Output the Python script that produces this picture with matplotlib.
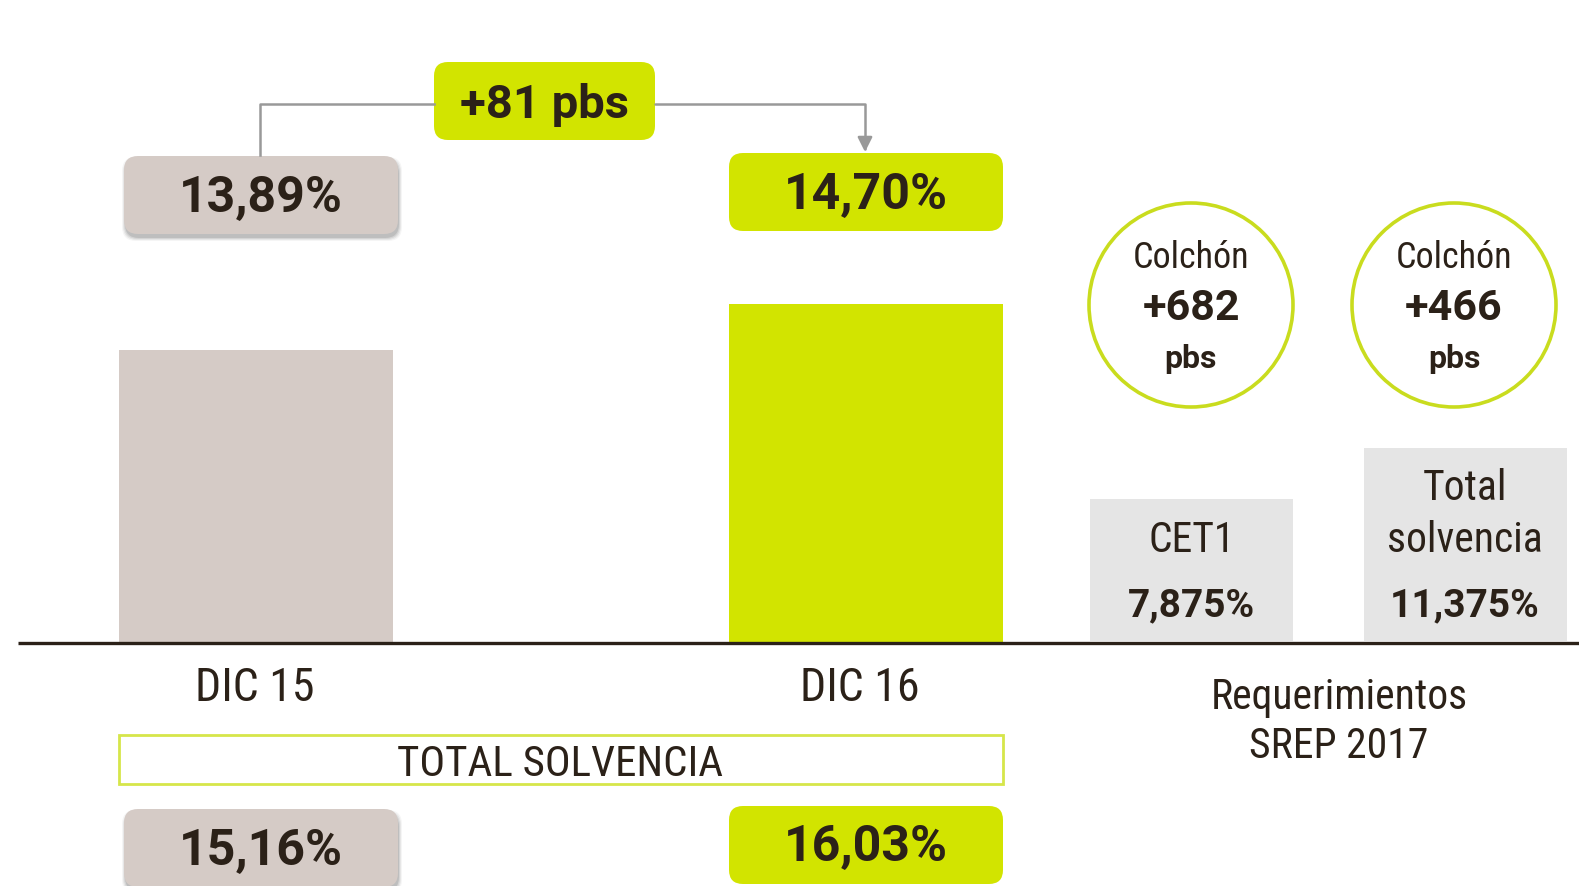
import matplotlib
matplotlib.use("Agg")
import matplotlib.pyplot as plt
from matplotlib import font_manager
from matplotlib.patches import FancyBboxPatch, Circle, Rectangle

W, H = 1579, 886

## data
periods = ["DIC 15", "DIC 16"]
cet1_ratio = [13.89, 14.70]
total_solvency = [15.16, 16.03]
change_pbs = 81
srep_labels = [["CET1"], ["Total", "solvencia"]]
srep_req = [7.875, 11.375]
buffer_pbs = [682, 466]

GREY = "#d5cbc6"
GREEN = "#d2e400"
LIGHT = "#e5e5e5"
INK = "#2b2118"


def pick_font(names):
    have = {f.name for f in font_manager.fontManager.ttflist}
    for n in names:
        if n in have:
            return n
    return "DejaVu Sans"


FONT = pick_font(["Roboto Condensed", "Liberation Sans Narrow", "Roboto"])
BOLD = [pick_font(["Roboto", "Open Sans"]), "DejaVu Sans"]
plt.rcParams["font.family"] = [FONT, "DejaVu Sans"]


def fmt(v, nd=2):
    return f"{v:.{nd}f}".replace(".", ",") + "%"


def ax_rect(x0, y0, x1, y1):
    # pixel box (top-left origin) -> figure fraction
    return [x0 / W, 1 - y1 / H, (x1 - x0) / W, (y1 - y0) / H]


fig = plt.figure(figsize=(W / 100, H / 100), dpi=100)

# main bars, baseline raised so the gap between the two reads clearly
ax1 = fig.add_axes(ax_rect(119, 304, 1003, 643))
w1 = 0.449
ax1.bar([0, 1], cet1_ratio, width=w1, color=[GREY, GREEN], bottom=0)
ax1.set_xlim(-w1 / 2, 1 + w1 / 2)
ax1.set_ylim(8.77, max(cet1_ratio))
ax1.axis("off")

# SREP requirement bars
ax2 = fig.add_axes(ax_rect(1090, 448, 1567, 641))
w2 = 0.744
base2 = -1.99
ax2.bar([0, 1], [v - base2 for v in srep_req], bottom=base2, width=w2, color=LIGHT)
ax2.set_xlim(-w2 / 2, 1 + w2 / 2)
ax2.set_ylim(base2, max(srep_req))
ax2.axis("off")

# overlay in pixel units for the annotations
ax = fig.add_axes([0, 0, 1, 1], zorder=5)
ax.set_xlim(0, W)
ax.set_ylim(H, 0)
ax.axis("off")
ax.patch.set_alpha(0)

ax.plot([18, W], [643, 643], color=INK, lw=2.4, solid_capstyle="butt")


def rbox(x0, y0, x1, y1, color, shadow=False):
    if shadow:
        for k, a in enumerate([0.10, 0.08, 0.06, 0.04]):
            ax.add_patch(FancyBboxPatch((x0 + 1 - k, y0 + 4 - k), x1 - x0 + 2 * k, y1 - y0 + 2 * k,
                                        boxstyle="round,pad=0,rounding_size=14",
                                        fc="#000000", ec="none", alpha=a))
    ax.add_patch(FancyBboxPatch((x0, y0), x1 - x0, y1 - y0,
                                boxstyle="round,pad=0,rounding_size=14",
                                fc=color, ec="none"))


def bold(x, y, s, size):
    ax.text(x, y, s, ha="center", va="center", fontsize=size, fontweight="bold",
            color=INK, family=BOLD)


centers = [261, 866]
colors = [GREY, GREEN]
lift = [0, 3]  # green boxes sit a touch higher
for i in range(2):
    cx = centers[i]
    dy = lift[i]
    rbox(cx - 137, 156 - dy, cx + 137, 234 - dy, colors[i], shadow=(i == 0))
    bold(cx, 198 - dy, fmt(cet1_ratio[i]), 36)
    ax.text(cx - 6, 688, periods[i], ha="center", va="center", fontsize=33, color=INK)
    rbox(cx - 137, 809 - dy, cx + 137, 887 - dy, colors[i], shadow=(i == 0))
    bold(cx, 851 - dy, fmt(total_solvency[i]), 36)

# +81 pbs connector
ax.plot([260, 260, 434], [155, 104, 104], color="#999999", lw=1.8)
ax.annotate("", xy=(865, 152), xytext=(655, 104),
            arrowprops=dict(arrowstyle="-|>", color="#999999", lw=1.8,
                            connectionstyle="angle,angleA=0,angleB=90,rad=0",
                            mutation_scale=22, shrinkA=0, shrinkB=0))
rbox(434, 62, 655, 140, GREEN)
bold(545, 105, f"+{change_pbs} pbs", 34)

# total solvency strip
ax.add_patch(Rectangle((119, 735), 884, 49, fc="white", ec="#d6e64a", lw=2))
ax.text(560, 765, "TOTAL SOLVENCIA", ha="center", va="center", fontsize=31, color=INK)

# requirement labels
req_x = [1191.5, 1464.5]
for i in range(2):
    lines = srep_labels[i]
    y0 = 540 - 52 * (len(lines) - 1)
    for k, s in enumerate(lines):
        ax.text(req_x[i], y0 + 52 * k, s, ha="center", va="center", fontsize=30, color=INK)
    bold(req_x[i], 606, fmt(srep_req[i], 3), 28)

# buffer circles
for cx, b in zip([1191, 1454], buffer_pbs):
    ax.add_patch(Circle((cx, 305), 102, fc="white", ec="#c9dc1e", lw=2.6))
    ax.text(cx, 258, "Colchón", ha="center", va="center", fontsize=26, color=INK)
    bold(cx, 309, f"+{b}", 31)
    bold(cx, 359, "pbs", 23)

ax.text(1339, 697, "Requerimientos", ha="center", va="center", fontsize=30, color=INK)
ax.text(1339, 747, "SREP 2017", ha="center", va="center", fontsize=30, color=INK)

fig.savefig("out.png", dpi=100)
